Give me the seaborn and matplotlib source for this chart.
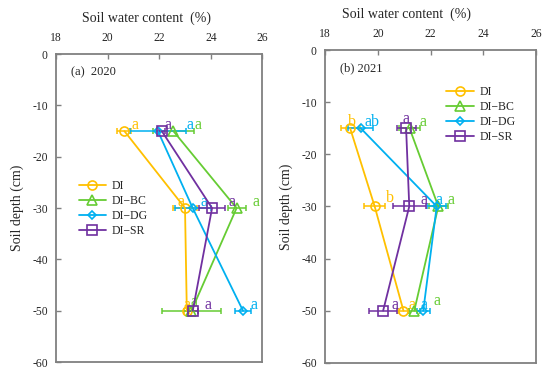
import pandas as pd
import seaborn as sns
import matplotlib.pyplot as plt

# soil depth (cm) and treatments
depths = [-15, -30, -50]
treatments = ['DI', 'DI\u2212BC', 'DI\u2212DG', 'DI\u2212SR']

# 2020 soil water content (%), means and error
swc_2020 = {
    'DI':        [20.65, 23.00, 23.07],
    'DI\u2212BC': [22.55, 25.00, 23.25],
    'DI\u2212DG': [21.95, 23.30, 25.25],
    'DI\u2212SR': [22.10, 24.05, 23.30],
}
err_2020 = {
    'DI':        [0.27, 0.45, 0.10],
    'DI\u2212BC': [0.80, 0.35, 1.15],
    'DI\u2212DG': [1.10, 0.70, 0.30],
    'DI\u2212SR': [0.12, 0.50, 0.20],
}
let_2020 = {
    'DI':        ['a', 'a', 'a'],
    'DI\u2212BC': ['a', 'a', 'a'],
    'DI\u2212DG': ['a', 'a', 'a'],
    'DI\u2212SR': ['a', 'a', 'a'],
}

# 2021
swc_2021 = {
    'DI':        [18.95, 19.88, 20.97],
    'DI\u2212BC': [21.20, 22.29, 21.38],
    'DI\u2212DG': [19.35, 22.23, 21.72],
    'DI\u2212SR': [21.07, 21.19, 20.20],
}
err_2021 = {
    'DI':        [0.36, 0.40, 0.20],
    'DI\u2212BC': [0.38, 0.35, 0.20],
    'DI\u2212DG': [0.47, 0.35, 0.25],
    'DI\u2212SR': [0.36, 0.63, 0.53],
}
let_2021 = {
    'DI':        ['b', 'b', 'a'],
    'DI\u2212BC': ['a', 'a', 'a'],
    'DI\u2212DG': ['ab', 'a', 'a'],
    'DI\u2212SR': ['a', 'a', 'a'],
}

colors = {'DI': '#FFC000', 'DI\u2212BC': '#66CC33', 'DI\u2212DG': '#00B0F0', 'DI\u2212SR': '#7030A0'}
markers = {'DI': 'o', 'DI\u2212BC': '^', 'DI\u2212DG': 'D', 'DI\u2212SR': 's'}
msizes = {'DI': 6.5, 'DI\u2212BC': 6.5, 'DI\u2212DG': 4.5, 'DI\u2212SR': 6.5}

# where a letter sits somewhere other than right of its error bar: (x, lift)
letter_place = {
    (2020, 'DI', 1): (22.7, 0.4), (2020, 'DI\u2212DG', 1): (23.6, 0.4),
    (2020, 'DI\u2212SR', 1): (24.7, 0.4), (2020, 'DI\u2212BC', 1): (25.6, 0.4),
    (2020, 'DI', 2): (22.95, 0.4), (2020, 'DI\u2212BC', 2): (23.2, 0.9),
    (2020, 'DI\u2212SR', 2): (23.75, 0.4),
    (2021, 'DI', 0): (18.85, 0.5), (2021, 'DI\u2212DG', 0): (19.5, 0.4),
    (2021, 'DI\u2212SR', 0): (20.95, 1.0), (2021, 'DI', 1): (20.3, 0.8),
    (2021, 'DI\u2212SR', 1): (21.6, 0.4), (2021, 'DI\u2212DG', 1): (22.2, 0.4),
    (2021, 'DI\u2212SR', 2): (20.5, 0.4), (2021, 'DI\u2212DG', 2): (21.6, 0.4),
    (2021, 'DI\u2212BC', 2): (22.1, 1.0),
}

sns.set_style('white')
plt.rcParams['font.family'] = ['Liberation Serif', 'DejaVu Serif']
plt.rcParams['axes.unicode_minus'] = False


def to_long(swc, err):
    rows = []
    for t in treatments:
        for d, v, e in zip(depths, swc[t], err[t]):
            rows.append({'treatment': t, 'depth': d, 'swc': v, 'err': e})
    return pd.DataFrame(rows)


def draw_panel(ax, year, df, letters, title, xlab_x, leg_anchor):
    for t in treatments:
        sub = df[df['treatment'] == t]
        ax.errorbar(sub['swc'], sub['depth'], xerr=sub['err'], fmt='none',
                    ecolor=colors[t], elinewidth=1.1, capsize=2.2, capthick=1.1, zorder=2)
        sns.lineplot(data=sub, x='swc', y='depth', sort=False, estimator=None, orient='y',
                     color=colors[t], marker=markers[t], markersize=msizes[t],
                     mfc='none', mec=colors[t], mew=1.2, lw=1.3, label=t, ax=ax, zorder=3)
        for i, ((v, d, e), lab) in enumerate(zip(sub[['swc', 'depth', 'err']].values, letters[t])):
            lx, lift = letter_place.get((year, t, i), (v + e, 0.4))
            ax.text(lx, d + lift, lab, color=colors[t], fontsize=11.5,
                    ha='left', va='baseline')

    ax.set_xlim(18, 26)
    ax.set_ylim(-60, 0)
    ax.set_xticks([18, 20, 22, 24, 26])
    ax.set_yticks([0, -10, -20, -30, -40, -50, -60])
    ax.xaxis.tick_top()
    ax.xaxis.set_label_position('top')
    ax.set_xlabel('Soil water content  (%)', fontsize=10, x=xlab_x, labelpad=7)
    ax.set_ylabel('Soil depth (cm)', fontsize=10, labelpad=6)
    ax.tick_params(direction='in', length=3.5, width=1, color='#808080',
                   labelsize=8.4, pad=7.5, top=True, bottom=False, left=True)
    ax.tick_params(axis='y', pad=6)
    for s in ax.spines.values():
        s.set_color('#808080')
        s.set_linewidth(1.3)
    ax.text(0.07, 0.94, title, transform=ax.transAxes, fontsize=9, va='center', ha='left')
    ax.legend(loc='upper left', bbox_to_anchor=leg_anchor, frameon=False, fontsize=8.5,
              handlelength=2.3, handletextpad=0.5, labelspacing=0.25, borderpad=0,
              borderaxespad=0)


fig = plt.figure(figsize=(5.5, 3.76), dpi=100)
ax1 = fig.add_axes([0.102, 0.037, 0.375, 0.819])
ax2 = fig.add_axes([0.591, 0.035, 0.384, 0.832])

draw_panel(ax1, 2020, to_long(swc_2020, err_2020), let_2020, '(a)  2020', 0.44, (0.11, 0.59))
draw_panel(ax2, 2021, to_long(swc_2021, err_2021), let_2021, '(b) 2021', 0.385, (0.575, 0.885))

fig.savefig('out.png', dpi=100)
